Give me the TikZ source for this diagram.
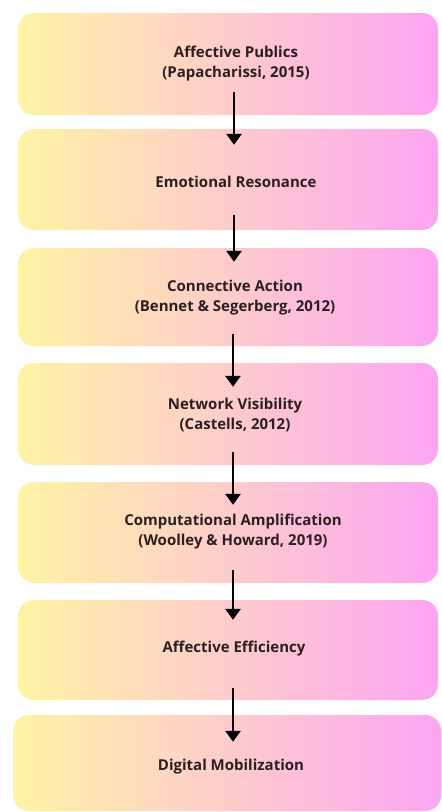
\documentclass[tikz,border=0pt]{standalone}
\usepackage{fontspec}
\setmainfont{Open Sans}
\usetikzlibrary{arrows.meta,calc}
\definecolor{gradL}{HTML}{FFF3A4}
\definecolor{gradM}{HTML}{FCD2C8}
\definecolor{gradR}{HTML}{FCA5F3}
\definecolor{txt}{HTML}{2B2020}
\tikzset{
  box/.style={rounded corners=16pt, left color=gradL, middle color=gradM, right color=gradR,
    draw=none, inner sep=0pt, minimum width=420pt},
  lbl/.style={font=\bfseries\fontsize{15}{20}\selectfont, text=txt, align=center, inner sep=0pt},
  flow/.style={line width=2.9pt, draw=black, -{Triangle[width=15pt,length=11pt]}}
}
\begin{document}
\begin{tikzpicture}[x=1pt,y=-1pt]
\useasboundingbox (0,0) rectangle (442,812);
\fill[white] (0,0) rectangle (442,812);
\node[box, minimum height=102pt] (b1) at (228,64) {};
\node[box, minimum height=101pt] (b2) at (228,179.5) {};
\node[box, minimum height=98pt] (b3) at (228,297) {};
\node[box, minimum height=102pt] (b4) at (228,414) {};
\node[box, minimum height=101pt] (b5) at (228,532.5) {};
\node[box, minimum height=100pt] (b6) at (228,650) {};
\node[box, minimum height=96pt, minimum width=428pt] (b7) at (227,763) {};
\node[lbl] (t1) at (236,64) {Affective Publics\\(Papacharissi, 2015)};
\node[lbl] (t2) at (236,182) {Emotional Resonance};
\node[lbl] (t3) at (235,298) {Connective Action\\(Bennet \& Segerberg, 2012)};
\node[lbl] (t4) at (235,415) {Network Visibility\\(Castells, 2012)};
\node[lbl] (t5) at (233,532) {Computational Amplification\\(Woolley \& Howard, 2019)};
\node[lbl] (t6) at (234,649) {Affective Efficiency};
\node[lbl] (t7) at (231,767) {Digital Mobilization};
\draw[flow] ($(b1.south)+(6,-23)$) -- ($(b2.north)+(6,16)$);
\draw[flow] ($(b2.south)+(6,-15)$) -- ($(b3.north)+(6,14)$);
\draw[flow] ($(b3.south)+(5,-12)$) -- ($(b4.north)+(5,24)$);
\draw[flow] ($(b4.south)+(5,-13)$) -- ($(b5.north)+(5,23)$);
\draw[flow] ($(b5.south)+(5,-13)$) -- ($(b6.north)+(5,20)$);
\draw[flow] ($(b6.south)+(5,-12)$) -- ($(b7.north)+(6,27)$);
\end{tikzpicture}
\end{document}
